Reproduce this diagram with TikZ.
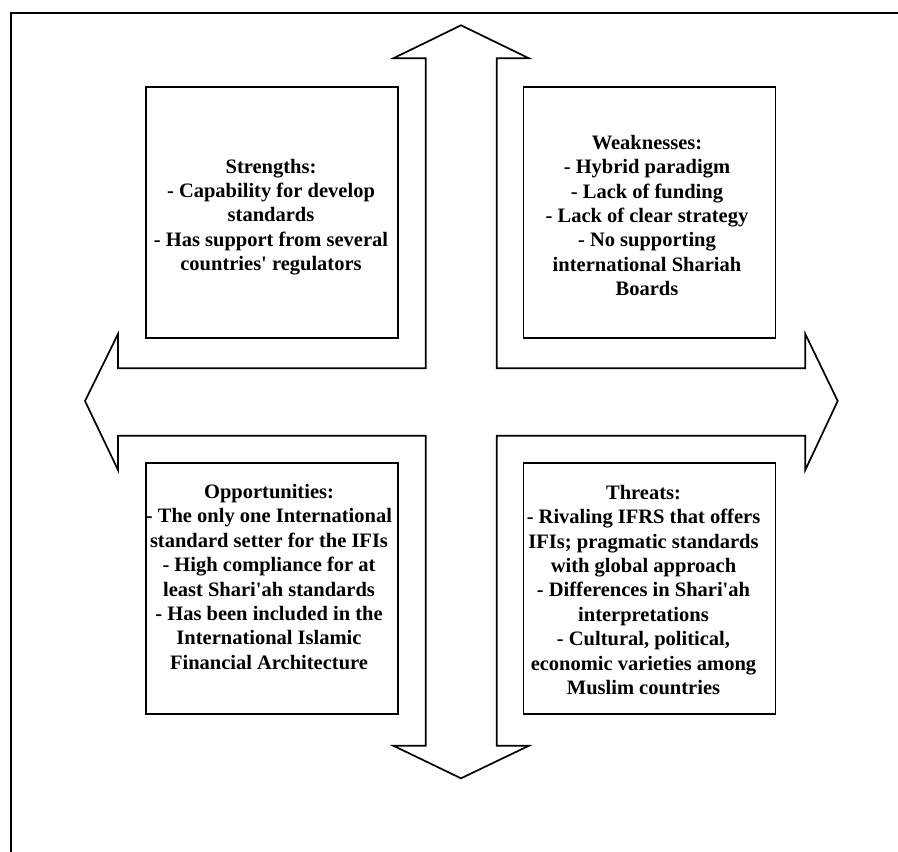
\documentclass[tikz,border=0pt]{standalone}
\usepackage{fontspec}
\setmainfont{Liberation Serif}
\begin{document}
\begin{tikzpicture}[x=1pt,y=-1pt,
  swotbox/.style={draw=black, line width=1.7pt, minimum width=252pt, minimum height=251.6pt, inner sep=0pt},
  swottext/.style={align=center, font=\fontsize{20.5pt}{24.4pt}\selectfont\bfseries, inner sep=0pt},
  crossline/.style={draw=black, line width=1.7pt, line join=miter}]
\useasboundingbox (0,0) rectangle (898,852);
% outer frame (partly outside the picture)
\draw[line width=2pt] (898,12.7) -- (10.6,12.7) -- (10.6,852);
% four-way arrow
\draw[crossline] (461,25.3) -- (529,58.3) -- (496.7,58.3) -- (496.7,368.3) -- (805.3,368.3)
  -- (805.3,334) -- (837.7,401) -- (805.3,470) -- (805.3,435.7) -- (496.7,435.7)
  -- (496.7,745.7) -- (529,745.7) -- (461,778.3) -- (393.3,745.7) -- (425.7,745.7)
  -- (425.7,435.7) -- (118,435.7) -- (118,470) -- (85,401) -- (118,334) -- (118,368.3)
  -- (425.7,368.3) -- (425.7,58.3) -- (393.3,58.3) -- cycle;
% boxes
\node[swotbox] (sbox) at (271.7,212.5) {};
\node[swotbox] (wbox) at (649.4,212.5) {};
\node[swotbox] (obox) at (271.7,588.5) {};
\node[swotbox] (tbox) at (649.4,588.5) {};
% texts
\node[swottext] (stext) at (271,217) {Strengths:\\- Capability for develop\\standards\\- Has support from several\\countries\textquotesingle\ regulators};
\node[swottext] (wtext) at (647,215.5) {Weaknesses:\\- Hybrid paradigm\\- Lack of funding\\- Lack of clear strategy\\- No supporting\\international Shariah\\Boards};
\node[swottext] (otext) at (269,577) {Opportunities:\\- The only one International\\standard setter for the IFIs\\- High compliance for at\\least Shari\textquotesingle ah standards\\- Has been included in the\\International Islamic\\Financial Architecture};
\node[swottext] (ttext) at (643.5,590) {Threats:\\- Rivaling IFRS that offers\\IFIs; pragmatic standards\\with global approach\\- Differences in Shari\textquotesingle ah\\interpretations\\- Cultural, political,\\economic varieties among\\Muslim countries};
\end{tikzpicture}
\end{document}
